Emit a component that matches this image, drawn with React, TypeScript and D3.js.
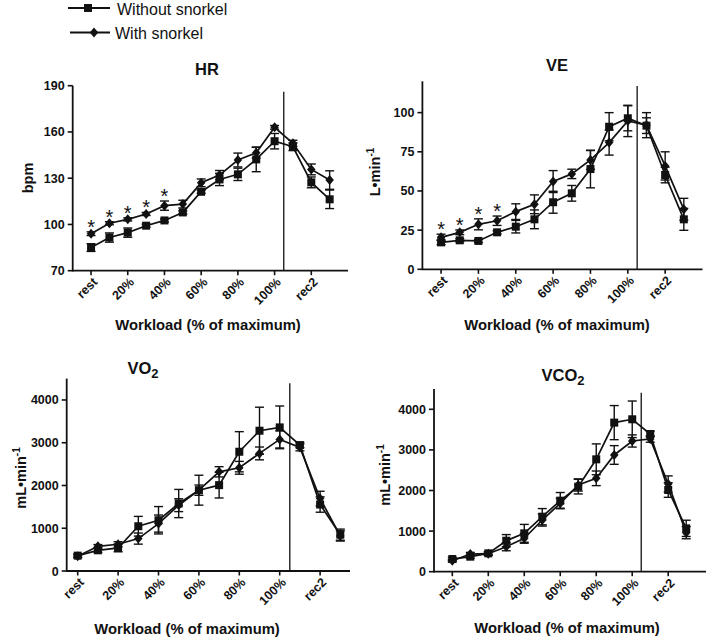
import React from "react";
import * as d3 from "d3";

const categories = ["rest", "10%", "20%", "30%", "40%", "50%", "60%", "70%", "80%", "90%", "100%", "rec1", "rec2", "rec3"];
const tickLabels = ["rest", "20%", "40%", "60%", "80%", "100%", "rec2"];
const seriesNames = ["Without snorkel", "With snorkel"];

const hrWithout = [85, 91.5, 94.7, 99.2, 102.6, 107.8, 121.2, 129.2, 132.5, 142.2, 154, 150.4, 127.3, 116.3];
const hrWithoutErr = [2.5, 3, 3, 1, 1, 1, 1, 4, 4, 8, 5, 2.5, 3.5, 6];
const hrWith = [94, 100.8, 103.3, 106.8, 112.2, 113.2, 127, 132, 141.8, 146.5, 163, 152.6, 135.7, 128.8];
const hrWithErr = [1.2, 1, 1, 1, 3, 2.5, 2.5, 3, 4.5, 3.5, 1.2, 2, 3.5, 6];
const hrStars = [0, 1, 2, 3, 4];

const veWithout = [17.2, 18.5, 18.1, 23.6, 27.2, 31.9, 42.8, 48.5, 64, 91, 96.4, 91.7, 60.2, 31.9];
const veWithoutErr = [1.5, 1, 1, 1, 4, 6, 7, 5, 12, 9, 8, 5, 5, 7];
const veWith = [20.4, 23.6, 28.7, 31, 36.8, 41.5, 56, 60.9, 69.8, 80.9, 94.7, 92, 66, 38.3];
const veWithErr = [2, 1.5, 3.5, 3, 5, 6, 7, 3, 6, 8, 10, 8, 9, 7];
const veStars = [0, 1, 2, 3];

const vo2Without = [359, 484, 539, 1047, 1187, 1578, 1890, 2008, 2789, 3281, 3359, 2945, 1555, 850];
const vo2WithoutErr = [40, 50, 90, 230, 320, 330, 350, 300, 470, 550, 500, 60, 180, 130];
const vo2With = [344, 578, 625, 758, 1109, 1539, 1890, 2320, 2414, 2750, 3078, 2890, 1695, 820];
const vo2WithErr = [30, 40, 60, 130, 200, 150, 120, 120, 150, 150, 200, 80, 170, 120];

const vco2Without = [312, 370, 452, 764, 945, 1355, 1750, 2095, 2768, 3672, 3754, 3392, 2012, 1068];
const vco2WithoutErr = [40, 40, 40, 150, 220, 200, 200, 180, 380, 420, 450, 70, 180, 200];
const vco2With = [271, 435, 443, 616, 821, 1273, 1684, 2136, 2300, 2875, 3220, 3269, 2160, 961];
const vco2WithErr = [30, 40, 40, 100, 120, 150, 120, 150, 180, 230, 150, 80, 200, 150];

const hrTicks = [70, 100, 130, 160, 190];
const veTicks = [0, 25, 50, 75, 100];
const gasTicks = [0, 1000, 2000, 3000, 4000];

const FONT = "'Liberation Sans', Arial, Helvetica, sans-serif";

type Panel = {
  title: string;
  titleSub?: string;
  titleX: number;
  titleY: number;
  yLabel: string;
  yLabelSup?: string;
  yLabelX: number;
  yLabelY: number;
  xLabelX: number;
  xLabelY: number;
  xDomain: [number, number];
  xRange: [number, number];
  yDomain: [number, number];
  yRange: [number, number];
  yTicks: number[];
  vTop: number;
  without: number[];
  withoutErr: number[];
  withS: number[];
  withErr: number[];
  stars: number[];
};

const panels: Panel[] = [
  {
    title: "HR", titleX: 207, titleY: 75,
    yLabel: "bpm", yLabelX: 33, yLabelY: 178,
    xLabelX: 208, xLabelY: 330,
    xDomain: [-1, 14], xRange: [72.7, 348],
    yDomain: [70, 190], yRange: [270.7, 85.7], yTicks: hrTicks, vTop: 91.7,
    without: hrWithout, withoutErr: hrWithoutErr, withS: hrWith, withErr: hrWithErr, stars: hrStars,
  },
  {
    title: "VE", titleX: 557, titleY: 71,
    yLabel: "L\u2022min", yLabelSup: "-1", yLabelX: 380, yLabelY: 172,
    xLabelX: 557, xLabelY: 330,
    xDomain: [-1, 14], xRange: [422.4, 702.5],
    yDomain: [0, 120], yRange: [269.3, 81.3], yTicks: veTicks, vTop: 86,
    without: veWithout, withoutErr: veWithoutErr, withS: veWith, withErr: veWithErr, stars: veStars,
  },
  {
    title: "VO", titleSub: "2", titleX: 143, titleY: 374,
    yLabel: "mL\u2022min", yLabelSup: "-1", yLabelX: 26, yLabelY: 478,
    xLabelX: 187, xLabelY: 634,
    xDomain: [-0.545, 13.48], xRange: [66.7, 350],
    yDomain: [0, 4500], yRange: [571, 378.6], yTicks: gasTicks, vTop: 383.3,
    without: vo2Without, withoutErr: vo2WithoutErr, withS: vo2With, withErr: vo2WithErr, stars: [],
  },
  {
    title: "VCO", titleSub: "2", titleX: 563, titleY: 381,
    yLabel: "mL\u2022min", yLabelSup: "-1", yLabelX: 390, yLabelY: 475,
    xLabelX: 567, xLabelY: 633,
    xDomain: [-1.017, 14.1], xRange: [434, 706],
    yDomain: [0, 4500], yRange: [571.7, 389], yTicks: gasTicks, vTop: 392.7,
    without: vco2Without, withoutErr: vco2WithoutErr, withS: vco2With, withErr: vco2WithErr, stars: [],
  },
];

function Square({ x, y, s = 8 }: { x: number; y: number; s?: number }) {
  return <rect x={x - s / 2} y={y - s / 2} width={s} height={s} fill="#111" />;
}
function Diamond({ x, y, s = 5 }: { x: number; y: number; s?: number }) {
  return <path d={`M${x},${y - s}L${x + s * 0.85},${y}L${x},${y + s}L${x - s * 0.85},${y}Z`} fill="#111" />;
}

function PanelView({ p }: { p: Panel }) {
  const x = d3.scaleLinear().domain(p.xDomain).range(p.xRange);
  const y = d3.scaleLinear().domain(p.yDomain).range(p.yRange);
  const line = d3.line<number>().x((_, i) => x(i)).y((v) => y(v));
  const y0 = p.yRange[0];
  const y1 = y(p.yDomain[1]);
  const left = p.xRange[0];
  const right = p.xRange[1];
  const cap = 4.5;
  const errBars = (vals: number[], errs: number[]) =>
    vals.map((v, i) => {
      const cx = x(i);
      const top = y(v + errs[i]);
      const bot = y(v - errs[i]);
      return (
        <g key={i} stroke="#111" strokeWidth={1.4}>
          <line x1={cx} x2={cx} y1={top} y2={bot} />
          <line x1={cx - cap} x2={cx + cap} y1={top} y2={top} />
          <line x1={cx - cap} x2={cx + cap} y1={bot} y2={bot} />
        </g>
      );
    });
  return (
    <g fontFamily={FONT}>
      <line x1={left} x2={left} y1={y1} y2={y0 + 0.8} stroke="#111" strokeWidth={1.8} />
      <line x1={left} x2={right} y1={y0} y2={y0} stroke="#111" strokeWidth={1.8} />
      {p.yTicks.map((t) => (
        <g key={t}>
          <line x1={left - 5} x2={left} y1={y(t)} y2={y(t)} stroke="#111" strokeWidth={1.6} />
          <text x={left - 8} y={y(t)} dy="0.36em" textAnchor="end" fontSize={12.5} fontWeight="bold" fill="#111">
            {t}
          </text>
        </g>
      ))}
      {tickLabels.map((lab) => {
        const i = categories.indexOf(lab);
        const cx = x(i);
        return (
          <g key={lab}>
            <line x1={cx} x2={cx} y1={y0} y2={y0 + 4.5} stroke="#111" strokeWidth={1.6} />
            <text
              transform={`translate(${cx + 4},${y0 + 9}) rotate(-45)`}
              textAnchor="end"
              dy="0.35em"
              fontSize={12.5}
              fontWeight="bold"
              fill="#111"
            >
              {lab}
            </text>
          </g>
        );
      })}
      <line x1={x(10.5)} x2={x(10.5)} y1={p.vTop} y2={y0} stroke="#111" strokeWidth={1.3} />
      <path d={line(p.without) || ""} fill="none" stroke="#111" strokeWidth={1.7} />
      <path d={line(p.withS) || ""} fill="none" stroke="#111" strokeWidth={1.7} />
      {errBars(p.without, p.withoutErr)}
      {errBars(p.withS, p.withErr)}
      {p.without.map((v, i) => (
        <Square key={"s" + i} x={x(i)} y={y(v)} />
      ))}
      {p.withS.map((v, i) => (
        <Diamond key={"d" + i} x={x(i)} y={y(v)} />
      ))}
      {p.stars.map((i) => (
        <text key={"st" + i} x={x(i)} y={y(p.withS[i] + p.withErr[i]) + 2} textAnchor="middle" fontSize={20} fill="#111">
          *
        </text>
      ))}
      <text x={p.titleX} y={p.titleY} textAnchor="middle" fontSize={16.5} fontWeight="bold" fill="#111">
        {p.title}
        {p.titleSub && (
          <tspan fontSize={13} dy={4}>
            {p.titleSub}
          </tspan>
        )}
      </text>
      <text x={p.xLabelX} y={p.xLabelY} textAnchor="middle" fontSize={14.8} fontWeight="bold" fill="#111">
        Workload (% of maximum)
      </text>
      <text
        transform={`translate(${p.yLabelX},${p.yLabelY}) rotate(-90)`}
        textAnchor="middle"
        fontSize={14.5}
        fontWeight="bold"
        fill="#111"
      >
        {p.yLabel}
        {p.yLabelSup && (
          <tspan fontSize={10} dy={-6}>
            {p.yLabelSup}
          </tspan>
        )}
      </text>
    </g>
  );
}

export default function App() {
  return (
    <svg
      width={709}
      height={638}
      style={{ position: "absolute", left: 0, top: 0, background: "#fff" }}
    >
      <rect width={709} height={638} fill="#fff" />
      <g fontFamily={FONT}>
        <line x1={68} x2={110} y1={8} y2={8} stroke="#111" strokeWidth={2} />
        <Square x={88} y={8} s={8} />
        <text x={117} y={14.8} fontSize={16} fill="#111">
          {seriesNames[0]}
        </text>
        <line x1={70} x2={110} y1={32.5} y2={32.5} stroke="#111" strokeWidth={2} />
        <Diamond x={94} y={32.5} s={5} />
        <text x={115} y={38.5} fontSize={16} fill="#111">
          {seriesNames[1]}
        </text>
      </g>
      {panels.map((p) => (
        <PanelView key={p.title} p={p} />
      ))}
    </svg>
  );
}
